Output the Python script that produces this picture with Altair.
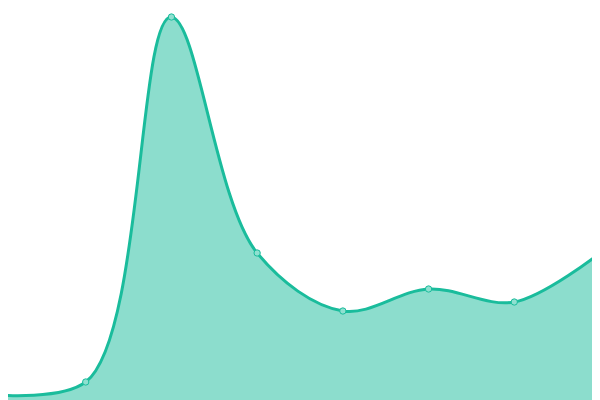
import altair as alt
import pandas as pd

# x positions (index) and values (height above baseline)
idx = [0, 1, 2, 3, 4, 5, 6, 7]
values = [5, 18, 383, 147, 89, 111, 98, 147]

df = pd.DataFrame({"i": idx, "v": values})

LINE = "#1abc9c"
step = 600 / 7

xs = alt.Scale(domain=[8 / step, 592 / step], nice=False, zero=False)
ys = alt.Scale(domain=[0, 392], nice=False)

base = alt.Chart(df).encode(
    x=alt.X("i:Q", scale=xs, axis=None),
    y=alt.Y("v:Q", scale=ys, axis=None),
)

area = base.mark_area(interpolate="catmull-rom", tension=0.6, color=LINE,
                      opacity=0.5, clip=True)
line = base.mark_line(interpolate="catmull-rom", tension=0.6, color=LINE,
                      strokeWidth=3, clip=True)
pts = base.mark_point(filled=True, size=40, fill="#8fe0d0", stroke=LINE,
                      strokeWidth=1, opacity=1, clip=True)

chart = (area + line + pts).properties(
    width=584, height=392, padding=0, background="white"
).configure_view(stroke=None)

chart.save("out.html", embed_options={"renderer": "svg", "actions": False})
